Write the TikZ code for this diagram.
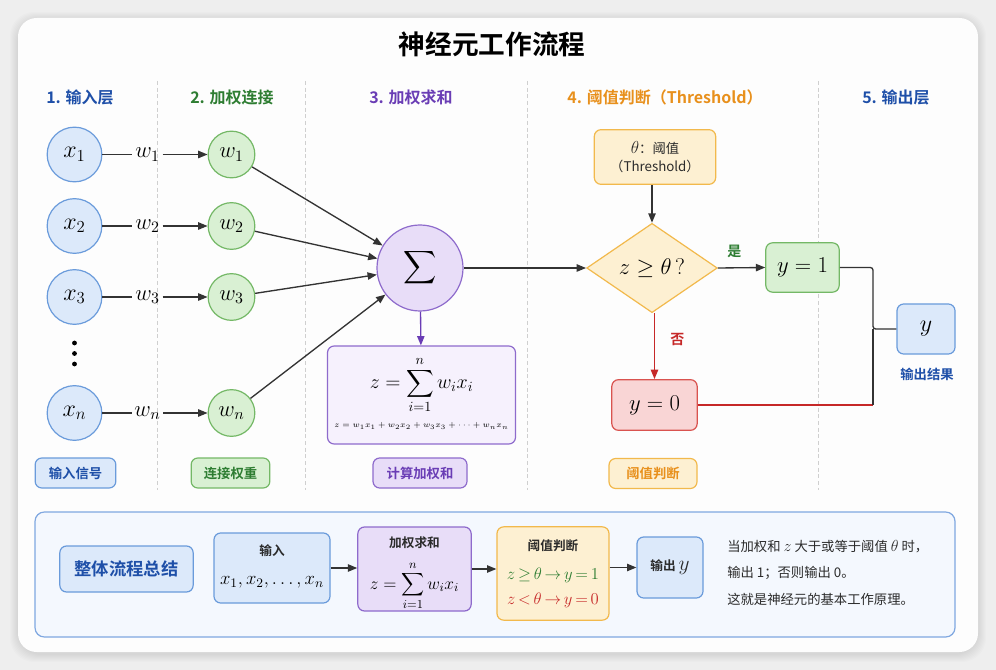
\RequirePackage{fix-cm}
\documentclass[tikz,border=0pt]{standalone}
\usepackage[no-math]{fontspec}
\setmainfont{Noto Sans CJK SC}[BoldFont={Noto Sans CJK SC Bold}]
\usepackage{amsmath}
\usetikzlibrary{arrows.meta,shapes.geometric,calc}
\definecolor{fblue}{HTML}{DCE9FA}
\definecolor{bdblue}{HTML}{6A9BDB}
\definecolor{tblue}{HTML}{1E4FA8}
\definecolor{fgreen}{HTML}{D9F0D3}
\definecolor{bdgreen}{HTML}{74B866}
\definecolor{tgreen}{HTML}{2E7D32}
\definecolor{fpurple}{HTML}{E8DDF8}
\definecolor{bdpurple}{HTML}{8E6BCC}
\definecolor{tpurple}{HTML}{6A3DB5}
\definecolor{lpurple}{HTML}{F6F1FD}
\definecolor{forange}{HTML}{FDF0D2}
\definecolor{bdorange}{HTML}{F2B94C}
\definecolor{torange}{HTML}{E8901C}
\definecolor{fred}{HTML}{F9D5D5}
\definecolor{bdred}{HTML}{D9534F}
\definecolor{tred}{HTML}{C62828}
\definecolor{linec}{HTML}{333333}
\definecolor{sepc}{HTML}{CFCFCF}
\definecolor{sumfill}{HTML}{F4F8FE}
\definecolor{sumbd}{HTML}{7FA7E0}
\definecolor{bgc}{HTML}{EEEEEE}
\definecolor{cardc}{HTML}{FDFDFD}
\definecolor{txtc}{HTML}{2B2B2B}
\tikzset{
  bluec/.style={circle, draw=bdblue, fill=fblue, line width=0.9pt, minimum size=41pt, inner sep=0pt, font=\fontsize{18}{20}\selectfont},
  greenc/.style={circle, draw=bdgreen, fill=fgreen, line width=0.9pt, minimum size=35pt, inner sep=0pt, font=\fontsize{17}{19}\selectfont},
  bx/.style={rectangle, rounded corners=5pt, line width=0.9pt, inner sep=0pt, align=center},
  conn/.style={line width=1pt, draw=linec, -{Triangle[length=7pt,width=5.5pt]}},
  hdr/.style={font=\bfseries\fontsize{12}{14}\selectfont},
  tagbox/.style={bx, font=\bfseries\fontsize{10}{12}\selectfont, minimum height=22.5pt},
  wlab/.style={inner sep=2pt, font=\fontsize{17}{19}\selectfont},
  sep/.style={draw=sepc, line width=0.6pt, dash pattern=on 3pt off 2pt},
  sbtitle/.style={font=\bfseries\fontsize{9.5}{11}\selectfont, text=txtc},
  note/.style={anchor=west, inner sep=0pt, font=\fontsize{10}{12}\selectfont, text=txtc}
}
\begin{document}
\begin{tikzpicture}[x=0.75pt,y=-0.75pt]
\useasboundingbox (0,0) rectangle (996,670);
\fill[bgc] (0,0) rectangle (996,670);
% card shadow
\foreach \i in {1,...,8}{
  \fill[black, opacity=0.012, rounded corners=18pt] ($(18,18)+(-\i,-\i+2)$) rectangle ($(978,652)+(\i,\i+2)$);
}
\fill[cardc, rounded corners=14pt] (18,18) rectangle (978,652);

% title
\node[font=\bfseries\fontsize{20}{24}\selectfont, text=black] (title) at (492,44) {神经元工作流程};

% headers
\node[hdr, text=tblue] (h1) at (80,97) {1. 输入层};
\node[hdr, text=tgreen] (h2) at (232,97) {2. 加权连接};
\node[hdr, text=tpurple] (h3) at (411,97) {3. 加权求和};
\node[hdr, text=torange] (h4) at (665,97) {4. 阈值判断（Threshold）};
\node[hdr, text=tblue] (h5) at (896,97) {5. 输出层};

% separators
\foreach \x in {157,305,527,818}{
  \draw[sep] (\x,81) -- (\x,490);
}

% input circles
\node[bluec] (x1) at (74.5,154.5) {$x_1$};
\node[bluec] (x2) at (74.5,226) {$x_2$};
\node[bluec] (x3) at (74.5,297) {$x_3$};
\node[bluec] (xn) at (74.5,413) {$x_n$};
\foreach \yy in {343,353.5,364}{
  \fill[black] (74.5,\yy) circle (1.8pt);
}

% weight circles
\node[greenc] (w1) at (231.5,154.5) {$w_1$};
\node[greenc] (w2) at (231.5,226) {$w_2$};
\node[greenc] (w3) at (231.5,297) {$w_3$};
\node[greenc] (wn) at (231.5,413) {$w_n$};

% weight labels
\node[wlab] (l1) at (147.5,154.5) {$w_1$};
\node[wlab] (l2) at (147.5,226) {$w_2$};
\node[wlab] (l3) at (147.5,297) {$w_3$};
\node[wlab] (ln) at (147.5,413) {$w_n$};
\foreach \a in {1,2,3,n}{
  \draw[line width=1pt, draw=linec] (x\a) -- (l\a);
  \draw[conn] (l\a) -- (w\a);
}

% sigma
\node[circle, draw=bdpurple, fill=fpurple, line width=0.9pt, minimum size=64.5pt, inner sep=0pt, font=\fontsize{17}{20}\selectfont] (sig) at (420,268) {$\displaystyle\sum$};
\foreach \a in {1,2,3,n}{
  \draw[conn] (w\a) -- (sig);
}

% formula box
\node[bx, draw=bdpurple, fill=lpurple, minimum width=141pt, minimum height=73.5pt] (fbox) at (421.5,395) {};
\node[font=\fontsize{15}{17}\selectfont, inner sep=0pt] (f1) at (421.5,385) {$\displaystyle z=\sum_{i=1}^{n} w_i x_i$};
\node[font=\fontsize{6}{7}\selectfont, inner sep=0pt] (f2) at (421.5,426) {$z=w_1x_1+w_2x_2+w_3x_3+\cdots+w_nx_n$};
\draw[line width=1pt, draw=tpurple, -{Triangle[length=7pt,width=5.5pt]}] (sig) -- (fbox);

% tags
\node[tagbox, draw=bdblue, fill=fblue, text=tblue, minimum width=60.5pt] (t1) at (75.5,473) {输入信号};
\node[tagbox, draw=bdgreen, fill=fgreen, text=tgreen, minimum width=59pt] (t2) at (230.5,473) {连接权重};
\node[tagbox, draw=bdpurple, fill=fpurple, text=tpurple, minimum width=70.5pt] (t3) at (420,473) {计算加权和};
\node[tagbox, draw=bdorange, fill=forange, text=torange, minimum width=66pt] (t4) at (653,473.5) {阈值判断};

% threshold
\node[bx, draw=bdorange, fill=forange, minimum width=91pt, minimum height=41pt, font=\fontsize{10}{14}\selectfont, text=txtc] (th) at (655,157) {{\fontsize{13}{14}\selectfont$\theta$}：阈值\\（Threshold）};
\node[diamond, draw=bdorange, fill=forange, line width=0.9pt, minimum width=98pt, minimum height=67pt, inner sep=0pt, font=\fontsize{17}{19}\selectfont] (dia) at (652,268) {$z\geq\theta\,?$};
\draw[conn] (th.south -| dia.north) -- (dia.north);
\draw[conn] (sig) -- (dia);

% outcomes
\node[bx, draw=bdgreen, fill=fgreen, minimum width=55pt, minimum height=37pt, font=\fontsize{17}{19}\selectfont] (y1) at (802.5,267.5) {$y=1$};
\node[bx, draw=bdred, fill=fred, minimum width=64pt, minimum height=38pt, font=\fontsize{17}{19}\selectfont] (y0) at (654.5,405) {$y=0$};
\draw[conn] (dia.east) -- (y1.west) node[pos=0.35, above=4pt, font=\bfseries\fontsize{10.5}{12}\selectfont, text=tgreen] {是};
\draw[line width=1pt, draw=tred, -{Triangle[length=7pt,width=5.5pt]}] (dia.south -| y0.north) -- (y0.north) node[pos=0.4, right=8pt, font=\bfseries\fontsize{10.5}{12}\selectfont, text=tred] {否};

% output
\node[bx, draw=bdblue, fill=fblue, minimum width=43.5pt, minimum height=37.5pt, font=\fontsize{18}{20}\selectfont] (yo) at (926,329) {$y$};
\node[font=\bfseries\fontsize{10}{12}\selectfont, text=tblue] (yol) at (927,374) {输出结果};
\coordinate (jn) at (873,329);
\coordinate (jb) at (873,405);
\draw[line width=1pt, draw=linec, rounded corners=2pt] (y1.east) -| (jn) -- (yo.west);
\draw[line width=1pt, draw=tred] (y0.east) -- (jb);
\draw[line width=1pt, draw=linec] (jb) -- (jn);

% summary
\node[bx, rounded corners=7pt, draw=sumbd, fill=sumfill, minimum width=690pt, minimum height=93.75pt] (sum) at (495,574.5) {};
\node[bx, draw=bdblue, fill=fblue, minimum width=100pt, minimum height=34.5pt, font=\bfseries\fontsize{13}{15}\selectfont, text=tblue] (s0) at (126.5,569) {整体流程总结};
\node[bx, draw=bdblue, fill=fblue, minimum width=87pt, minimum height=52.5pt] (s1) at (272,568) {};
\node[sbtitle] (s1t) at (272,551) {输入};
\node[font=\fontsize{14}{16}\selectfont, inner sep=0pt] (s1m) at (272,582) {$x_1,x_2,\ldots,x_n$};
\node[bx, draw=bdpurple, fill=fpurple, minimum width=85pt, minimum height=63pt] (s2) at (414.5,569) {};
\node[sbtitle, inner sep=0pt] (s2t) at (414.5,543) {加权求和};
\node[font=\fontsize{13}{15}\selectfont, inner sep=0pt] (s2m) at (414.5,586) {$\displaystyle z=\sum_{i=1}^{n} w_i x_i$};
\node[bx, draw=bdorange, fill=forange, minimum width=84pt, minimum height=70pt] (s3) at (553,573.5) {};
\node[sbtitle] (s3t) at (553,546) {阈值判断};
\node[font=\fontsize{12.5}{14}\selectfont, text=tgreen, inner sep=0pt] (s3a) at (553,575) {$\thickmuskip=3mu \medmuskip=2mu z\geq\theta\rightarrow y=1$};
\node[font=\fontsize{12.5}{14}\selectfont, text=tred, inner sep=0pt] (s3b) at (553,600) {$\thickmuskip=3mu \medmuskip=2mu z<\theta\rightarrow y=0$};
\node[bx, draw=bdblue, fill=fblue, minimum width=49.5pt, minimum height=45.75pt, font=\bfseries\fontsize{9.5}{11}\selectfont, text=txtc] (s4) at (670,567.5) {输出 {\mdseries\fontsize{16}{18}\selectfont$y$}};
\draw[conn] (s1.east) -- (s2.west |- s1.east);
\draw[conn] (s2.east) -- (s3.west |- s2.east);
\draw[conn] (s3.east |- s4.west) -- (s4.west);
\node[note] (n1) at (727,547) {当加权和 {\fontsize{12}{12}\selectfont$z$} 大于或等于阈值 {\fontsize{12}{12}\selectfont$\theta$} 时，};
\node[note] (n2) at (727,573) {输出 1；否则输出 0。};
\node[note] (n3) at (727,599) {这就是神经元的基本工作原理。};
\end{tikzpicture}
\end{document}
